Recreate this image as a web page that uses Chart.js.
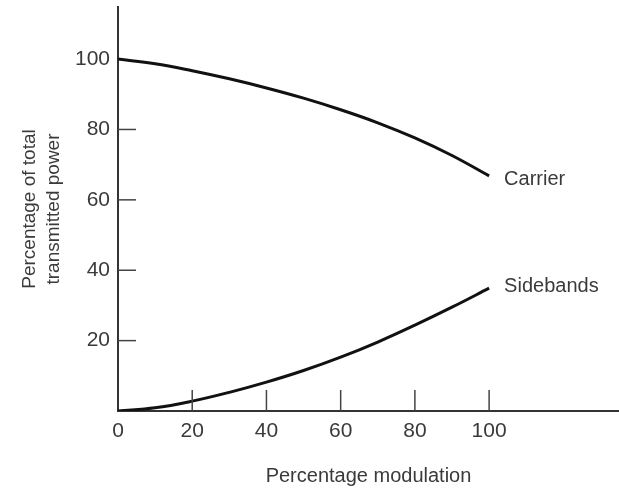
<!DOCTYPE html>
<html>
<head>
<meta charset="utf-8">
<script src="https://cdn.jsdelivr.net/npm/chart.js@4"></script>
<style>
html,body{margin:0;padding:0;background:#fff;}
#wrap{width:619px;height:488px;position:relative;}
</style>
</head>
<body>
<div id="wrap"><canvas id="c"></canvas></div>
<script>
const modulation = [0, 10, 20, 30, 40, 50, 60, 70, 80, 90, 100];
const carrier = [100, 98.7, 96.7, 94.4, 91.8, 88.9, 85.6, 81.9, 77.6, 72.6, 66.8];
const sidebands = [0, 0.9, 2.8, 5.3, 8.2, 11.5, 15.3, 19.6, 24.4, 29.5, 34.9];
const xTicks = [0, 20, 40, 60, 80, 100];
const yTicks = [20, 40, 60, 80, 100];
const seriesNames = ['Carrier', 'Sidebands'];

const FONT = '"Liberation Sans", Arial, sans-serif';
const TXT = '#3a3a3a';

const innerTicks = {
  id: 'innerTicks',
  afterDatasetsDraw(chart) {
    const ctx = chart.ctx, x = chart.scales.x, y = chart.scales.y;
    ctx.save();
    ctx.strokeStyle = '#444';
    ctx.lineWidth = 1.5;
    xTicks.forEach(v => {
      if (v === 0) return;
      const px = x.getPixelForValue(v);
      ctx.beginPath(); ctx.moveTo(px, y.bottom); ctx.lineTo(px, y.bottom - 21); ctx.stroke();
    });
    yTicks.forEach(v => {
      if (v === 100) return;
      const py = y.getPixelForValue(v);
      ctx.beginPath(); ctx.moveTo(x.left, py); ctx.lineTo(x.left + 18, py); ctx.stroke();
    });
    // direct labels
    ctx.fillStyle = TXT;
    ctx.font = '20px ' + FONT;
    ctx.textBaseline = 'middle';
    ctx.textAlign = 'left';
    chart.data.datasets.forEach((ds, i) => {
      const last = ds.data.length - 1;
      const px = x.getPixelForValue(modulation[last]);
      const py = y.getPixelForValue(ds.data[last]);
      const dy = i === 0 ? 4 : -2;
      ctx.fillText(seriesNames[i], px + 15, py + dy);
    });
    ctx.restore();
  }
};

new Chart(document.getElementById('c'), {
  type: 'line',
  data: {
    labels: modulation,
    datasets: [
      { label: seriesNames[0], data: carrier, borderColor: '#111', borderWidth: 3, pointRadius: 0, tension: 0.4, fill: false },
      { label: seriesNames[1], data: sidebands, borderColor: '#111', borderWidth: 3, pointRadius: 0, tension: 0.4, fill: false }
    ]
  },
  options: {
    responsive: true,
    maintainAspectRatio: false,
    animation: false,
    devicePixelRatio: 1,
    layout: { padding: { top: 7, right: 0, left: 0, bottom: 0 } },
    plugins: { legend: { display: false }, tooltip: { enabled: false } },
    scales: {
      x: {
        type: 'linear',
        min: 0, max: 135,
        afterBuildTicks(s) { s.ticks = xTicks.map(v => ({ value: v })); },
        afterFit(s) { s.height = 77; s.paddingLeft = 0; s.paddingRight = 0; },
        grid: { display: false, drawTicks: false },
        border: { display: true, color: '#333', width: 2 },
        ticks: { color: TXT, font: { family: FONT, size: 21 }, padding: 8, maxRotation: 0, autoSkip: false },
        title: { display: true, text: 'Percentage modulation', color: TXT, font: { family: FONT, size: 20 }, padding: { top: 12, bottom: 0 } }
      },
      y: {
        type: 'linear',
        min: 0, max: 114.8,
        afterBuildTicks(s) { s.ticks = yTicks.map(v => ({ value: v })); },
        afterFit(s) { s.width = 118; s.paddingTop = 0; s.paddingBottom = 0; },
        grid: { display: false, drawTicks: false },
        border: { display: true, color: '#333', width: 2 },
        ticks: { color: TXT, font: { family: FONT, size: 21 }, padding: 8, autoSkip: false },
        title: { display: true, text: ['Percentage of total', 'transmitted power'], color: TXT, font: { family: FONT, size: 19, lineHeight: 1.3 }, padding: { top: 17, bottom: 0 } }
      }
    }
  },
  plugins: [innerTicks]
});
</script>
</body>
</html>
